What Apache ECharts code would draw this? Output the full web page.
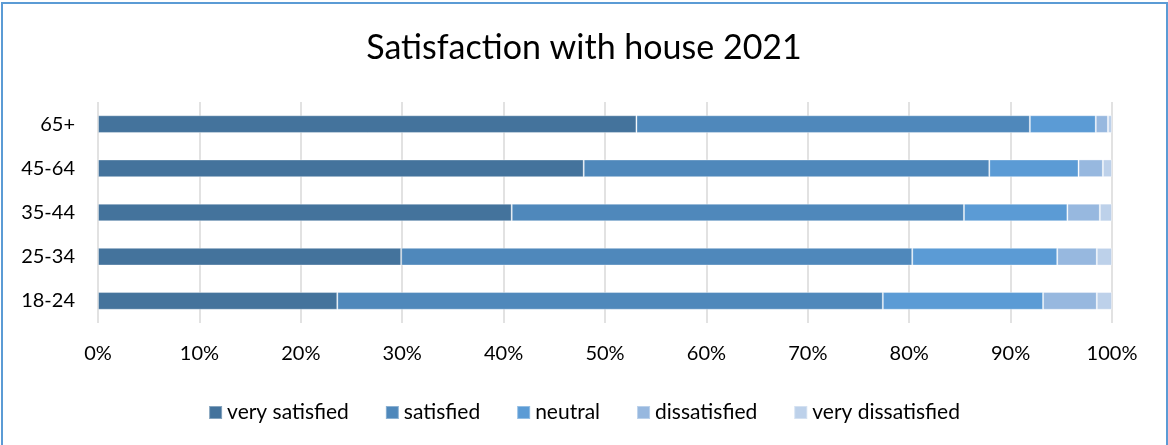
<!DOCTYPE html>
<html>
<head>
<meta charset="utf-8">
<script src="https://cdn.jsdelivr.net/npm/echarts@6/dist/echarts.min.js"></script>
<style>
  html, body { margin: 0; padding: 0; background: #fff; }
  #frame { position: absolute; left: 1px; top: 2px; width: 1163px; height: 460px; border: 2px solid #5B9BD5; }
  #chart { position: absolute; left: 0; top: 0; width: 1168px; height: 445px; }
</style>
</head>
<body>
<div id="frame"></div>
<div id="chart"></div>
<script>
// age groups, bottom to top
var ageGroups = ["18-24", "25-34", "35-44", "45-64", "65+"];
// shares in percent
var verySatisfied    = [23.6, 29.9, 40.8, 47.9, 53.1];
var satisfied        = [53.8, 50.4, 44.6, 40.0, 38.8];
var neutral          = [15.8, 14.3, 10.2,  8.8,  6.5];
var dissatisfied     = [ 5.3,  3.9,  3.2,  2.4,  1.2];
var veryDissatisfied = [ 1.5,  1.5,  1.2,  0.9,  0.4];

var seriesNames = ["very satisfied", "satisfied", "neutral", "dissatisfied", "very dissatisfied"];
var seriesData = [verySatisfied, satisfied, neutral, dissatisfied, veryDissatisfied];
var colors = ["#44739C", "#4F88BB", "#5B9BD5", "#97B8DF", "#BDD1EA"];

var font = "Lato, 'Open Sans', sans-serif";

var series = [];
for (var i = 0; i < seriesNames.length; i++) {
	series.push({
		name: seriesNames[i],
		type: "bar",
		stack: "total",
		barWidth: "40%",
		itemStyle: { color: colors[i], borderColor: "rgba(255,255,255,0.35)", borderWidth: 1 },
		data: seriesData[i]
	});
}

var myChart = echarts.init(document.getElementById("chart"));
myChart.setOption({
	animation: false,
	color: colors,
	title: {
		text: "Satisfaction with house 2021",
		left: "center",
		top: 26,
		textStyle: { fontFamily: font, fontSize: 34, fontWeight: "normal", color: "#000" }
	},
	legend: {
		left: "center",
		top: 397,
		itemWidth: 13,
		itemHeight: 13,
		itemGap: 36,
		icon: "rect",
		textStyle: { fontFamily: font, fontSize: 21, color: "#000" }
	},
	grid: { left: 98, right: 56, top: 102, bottom: 122 },
	xAxis: {
		type: "value",
		min: 0,
		max: 100,
		interval: 10,
		axisLine: { show: false },
		axisTick: { show: false },
		axisLabel: { formatter: "{value}%", margin: 21, fontFamily: font, fontSize: 20, color: "#000" },
		splitLine: { lineStyle: { color: "#D9D9D9", width: 1.5 } }
	},
	yAxis: {
		type: "category",
		data: ageGroups,
		axisLine: { show: false },
		axisTick: { show: false },
		axisLabel: { margin: 23, fontFamily: font, fontSize: 20, color: "#000" }
	},
	series: series
});
</script>
</body>
</html>
